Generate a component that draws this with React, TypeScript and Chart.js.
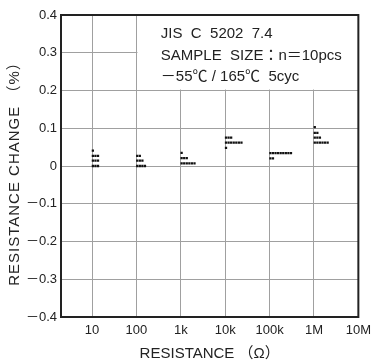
import React, { useEffect, useRef } from 'react';
import { Chart, registerables } from 'chart.js';

Chart.register(...registerables);

// ---- data ----
const xTickDecades = [1, 2, 3, 4, 5, 6, 7];
const xTickLabels = ['10', '100', '1k', '10k', '100k', '1M', '10M'];
const yTickValues = [-0.4, -0.3, -0.2, -0.1, 0, 0.1, 0.2, 0.3, 0.4];
const yTickLabels = ['－0.4', '－0.3', '－0.2', '－0.1', '0', '0.1', '0.2', '0.3', '0.4'];

const categories = ['10', '100', '1k', '10k', '100k', '1M'];
const categoryDecades = [1, 2, 3, 4, 5, 6];

const change10 = [0.041, 0.027, 0.027, 0.027, 0.014, 0.014, 0.014, 0.0, 0.0, 0.0];
const change100 = [0.027, 0.027, 0.014, 0.014, 0.014, 0.0, 0.0, 0.0, 0.0];
const change1k = [0.035, 0.021, 0.021, 0.021, 0.007, 0.007, 0.007, 0.007, 0.007, 0.007];
const change10k = [0.075, 0.075, 0.075, 0.062, 0.062, 0.062, 0.062, 0.062, 0.062, 0.062, 0.048];
const change100k = [0.034, 0.034, 0.034, 0.034, 0.034, 0.034, 0.034, 0.034, 0.034, 0.02, 0.02];
const change1M = [0.103, 0.088, 0.088, 0.075, 0.075, 0.075, 0.062, 0.062, 0.062, 0.062, 0.062, 0.062];
const seriesValues = [change10, change100, change1k, change10k, change100k, change1M];

const noteLines = ['JIS  C  5202  7.4', 'SAMPLE  SIZE：n＝10pcs', '－55℃ / 165℃  5cyc'];
const noteLevels = [0.349, 0.292, 0.237];
const xTitle = 'RESISTANCE （Ω）';
const yTitle = 'RESISTANCE CHANGE （%）';

// ---- style ----
const FONT = '"Liberation Sans", Arial, "Noto Sans CJK JP", sans-serif';
const INK = '#222';
const DOT_PITCH = 0.058; // decades between stacked dots
const DOT_START = 0.018;

function buildPoints() {
  const pts: { x: number; y: number }[] = [];
  seriesValues.forEach((vals, ci) => {
    const seen = new Map<number, number>();
    vals.forEach((v) => {
      const k = seen.get(v) || 0;
      seen.set(v, k + 1);
      pts.push({ x: categoryDecades[ci] + DOT_START + k * DOT_PITCH, y: v });
    });
  });
  return pts;
}

const framePlugin = {
  id: 'frameAndNote',
  beforeDatasetsDraw(chart: any) {
    const { ctx, chartArea, scales } = chart;
    const x0 = scales.x.getPixelForValue(2) + 1;
    const y1 = scales.y.getPixelForValue(0.2) - 1;
    ctx.save();
    ctx.fillStyle = '#fff';
    ctx.fillRect(x0, chartArea.top, chartArea.right - x0, y1 - chartArea.top);
    ctx.restore();
  },
  afterDraw(chart: any) {
    const { ctx, chartArea, scales } = chart;
    ctx.save();
    ctx.strokeStyle = INK;
    ctx.lineWidth = 2;
    ctx.strokeRect(chartArea.left, chartArea.top, chartArea.right - chartArea.left, chartArea.bottom - chartArea.top);
    ctx.fillStyle = INK;
    ctx.font = `15px ${FONT}`;
    ctx.textBaseline = 'middle';
    ctx.textAlign = 'left';
    const tx = scales.x.getPixelForValue(2.55);
    noteLines.forEach((t, i) => {
      ctx.fillText(t, tx, scales.y.getPixelForValue(noteLevels[i]));
    });
    // y axis title
    ctx.translate(15, (chartArea.top + chartArea.bottom) / 2 + 4);
    ctx.rotate(-Math.PI / 2);
    ctx.textAlign = 'center';
    (ctx as any).letterSpacing = '1px';
    ctx.fillText(yTitle, 0, 0);
    ctx.restore();
  },
};

export default function App() {
  const ref = useRef<HTMLCanvasElement>(null);
  useEffect(() => {
    document.body.style.margin = '0';
    const chart = new Chart(ref.current as HTMLCanvasElement, {
      type: 'scatter',
      data: {
        datasets: [
          {
            label: 'change',
            data: buildPoints(),
            pointStyle: 'rect',
            pointRadius: 1.6,
            pointBorderWidth: 0,
            backgroundColor: '#111',
            borderColor: '#111',
          },
        ],
      },
      options: {
        animation: false,
        responsive: false,
        devicePixelRatio: 1,
        layout: { padding: { top: 15, right: 14, left: 0, bottom: 0 } },
        plugins: { legend: { display: false }, tooltip: { enabled: false } },
        scales: {
          x: {
            type: 'linear',
            min: 0.3,
            max: 7,
            afterBuildTicks: (s: any) => {
              s.ticks = xTickDecades.map((v) => ({ value: v }));
            },
            afterFit: (s: any) => {
              s.height = 47;
            },
            ticks: {
              color: INK,
              font: { family: FONT, size: 13 },
              padding: 6,
              maxRotation: 0,
              autoSkip: false,
              callback: (v: any) => xTickLabels[xTickDecades.indexOf(Number(v))] ?? '',
            },
            grid: { color: '#a0a0a0', lineWidth: 1, drawTicks: false },
            border: { display: false },
            title: {
              display: true,
              text: xTitle,
              color: INK,
              font: { family: FONT, size: 15 },
              padding: { top: 0, bottom: 1 },
            },
          },
          y: {
            type: 'linear',
            min: -0.4,
            max: 0.4,
            afterBuildTicks: (s: any) => {
              s.ticks = yTickValues.map((v) => ({ value: v }));
            },
            afterFit: (s: any) => {
              s.width = 61;
            },
            ticks: {
              color: INK,
              font: { family: FONT, size: 13 },
              padding: 4,
              autoSkip: false,
              callback: (v: any) => {
                const i = yTickValues.findIndex((t) => Math.abs(t - Number(v)) < 1e-9);
                return i >= 0 ? yTickLabels[i] : '';
              },
            },
            grid: { color: '#a0a0a0', lineWidth: 1, drawTicks: false },
            border: { display: false },
          },
        },
      },
      plugins: [framePlugin],
    });
    return () => chart.destroy();
  }, []);
  return (
    <div style={{ width: 377, height: 364 }}>
      <canvas ref={ref} width={377} height={364} style={{ display: 'block' }} />
    </div>
  );
}
